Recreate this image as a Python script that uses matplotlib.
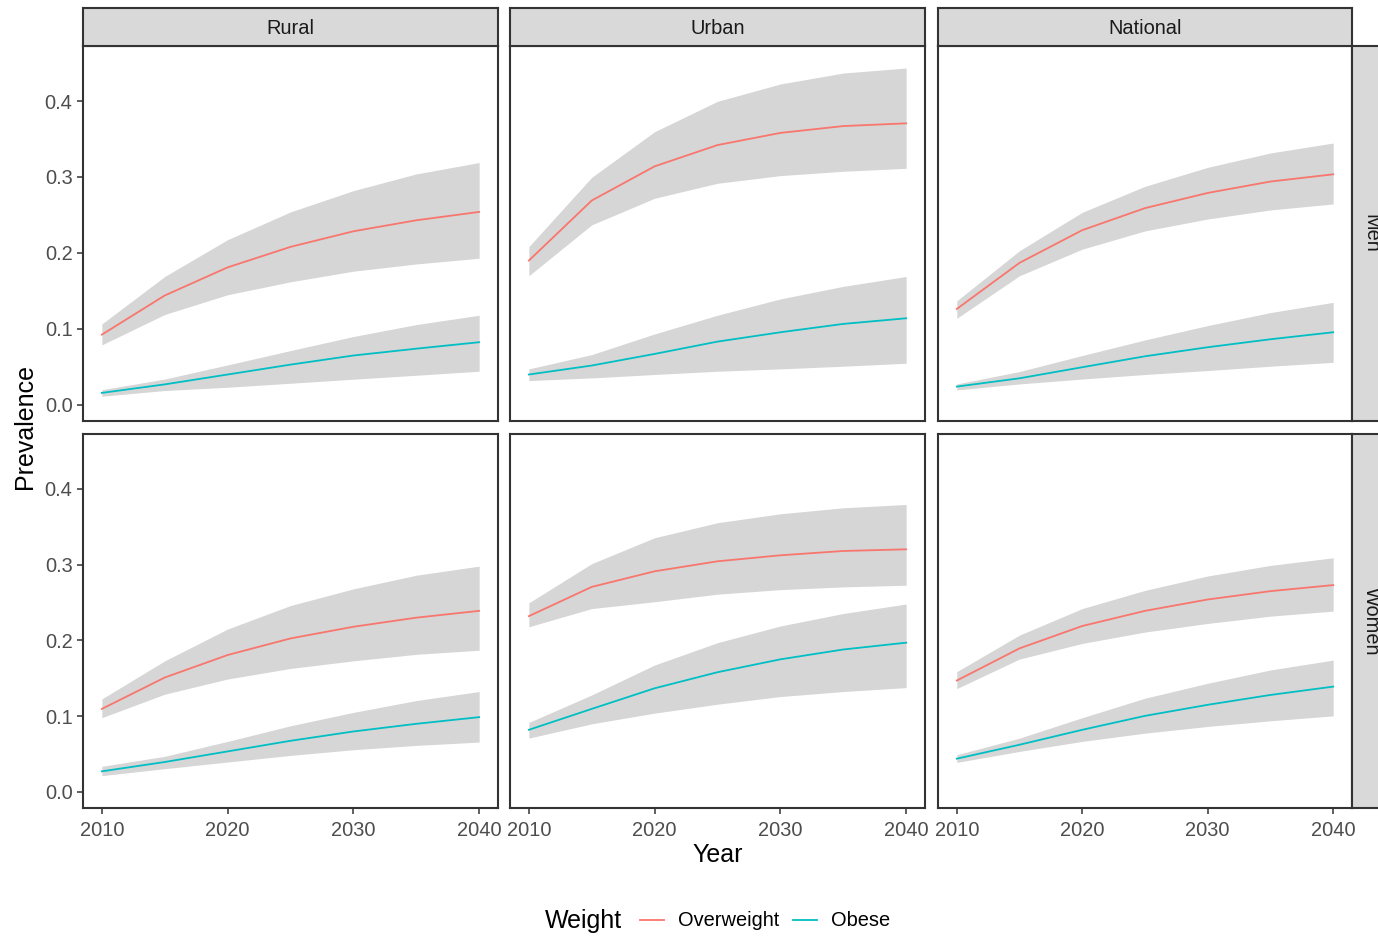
import matplotlib
matplotlib.use("Agg")
import matplotlib.pyplot as plt
from matplotlib.lines import Line2D
from matplotlib.offsetbox import HPacker

plt.rcParams['font.family'] = ['Liberation Sans', 'DejaVu Sans']

years = [2010, 2015, 2020, 2025, 2030, 2035, 2040]
areas = ["Rural", "Urban", "National"]
sexes = ["Men", "Women"]
weights = ["Overweight", "Obese"]
weight_colors = {"Overweight": "#F8766D", "Obese": "#00BFC4"}

# Projected prevalence (mean, lower bound, upper bound)
rural_men_overweight = [0.0925, 0.144, 0.181, 0.208, 0.2285, 0.243, 0.254]
rural_men_overweight_lo = [0.079, 0.119, 0.145, 0.162, 0.176, 0.1855, 0.193]
rural_men_overweight_hi = [0.1066, 0.169, 0.2175, 0.254, 0.282, 0.304, 0.319]
rural_men_obese = [0.0158, 0.0270, 0.040, 0.053, 0.0650, 0.0740, 0.0825]
rural_men_obese_lo = [0.0114, 0.0189, 0.0232, 0.0285, 0.0338, 0.039, 0.0443]
rural_men_obese_hi = [0.020, 0.034, 0.0526, 0.0715, 0.090, 0.1057, 0.118]

urban_men_overweight = [0.190, 0.269, 0.314, 0.342, 0.358, 0.367, 0.3706]
urban_men_overweight_lo = [0.170, 0.237, 0.272, 0.2917, 0.3018, 0.3075, 0.3114]
urban_men_overweight_hi = [0.2083, 0.2996, 0.3596, 0.3996, 0.4224, 0.4368, 0.4434]
urban_men_obese = [0.040, 0.0518, 0.0671, 0.0833, 0.0956, 0.1066, 0.114]
urban_men_obese_lo = [0.032, 0.0355, 0.040, 0.0443, 0.0474, 0.0509, 0.0548]
urban_men_obese_hi = [0.0474, 0.0662, 0.0934, 0.118, 0.1395, 0.156, 0.169]

national_men_overweight = [0.1263, 0.187, 0.230, 0.259, 0.279, 0.294, 0.3035]
national_men_overweight_lo = [0.114, 0.170, 0.205, 0.229, 0.2447, 0.2566, 0.2645]
national_men_overweight_hi = [0.137, 0.203, 0.2535, 0.2877, 0.3127, 0.3316, 0.3447]
national_men_obese = [0.0241, 0.035, 0.0496, 0.064, 0.0759, 0.0864, 0.0956]
national_men_obese_lo = [0.0197, 0.0276, 0.034, 0.040, 0.0452, 0.0509, 0.056]
national_men_obese_hi = [0.0276, 0.0439, 0.065, 0.0855, 0.1044, 0.1215, 0.135]

rural_women_overweight = [0.1096, 0.151, 0.1807, 0.2026, 0.218, 0.230, 0.239]
rural_women_overweight_lo = [0.098, 0.129, 0.149, 0.163, 0.173, 0.1816, 0.187]
rural_women_overweight_hi = [0.1228, 0.173, 0.215, 0.246, 0.268, 0.286, 0.298]
rural_women_obese = [0.0272, 0.0395, 0.0535, 0.0675, 0.0798, 0.0899, 0.0987]
rural_women_obese_lo = [0.0215, 0.0307, 0.0395, 0.0482, 0.0557, 0.0614, 0.0658]
rural_women_obese_hi = [0.0338, 0.047, 0.0667, 0.0873, 0.105, 0.1206, 0.1325]

urban_women_overweight = [0.232, 0.2706, 0.2912, 0.3044, 0.3123, 0.318, 0.3202]
urban_women_overweight_lo = [0.218, 0.242, 0.251, 0.261, 0.267, 0.2706, 0.2728]
urban_women_overweight_hi = [0.2496, 0.3013, 0.3355, 0.3553, 0.3671, 0.375, 0.3794]
urban_women_obese = [0.082, 0.1096, 0.1368, 0.158, 0.175, 0.188, 0.197]
urban_women_obese_lo = [0.071, 0.0899, 0.104, 0.1158, 0.1259, 0.1325, 0.1377]
urban_women_obese_hi = [0.0917, 0.128, 0.1675, 0.197, 0.219, 0.2355, 0.248]

national_women_overweight = [0.147, 0.1895, 0.219, 0.239, 0.254, 0.265, 0.273]
national_women_overweight_lo = [0.1364, 0.1754, 0.196, 0.211, 0.2224, 0.232, 0.2386]
national_women_overweight_hi = [0.1588, 0.207, 0.242, 0.266, 0.285, 0.299, 0.309]
national_women_obese = [0.0439, 0.0623, 0.082, 0.1004, 0.115, 0.128, 0.139]
national_women_obese_lo = [0.039, 0.0535, 0.0667, 0.0776, 0.0864, 0.0939, 0.1004]
national_women_obese_hi = [0.0491, 0.071, 0.098, 0.1237, 0.1434, 0.161, 0.174]

series = {
    ("Men", "Rural"): {
        "Overweight": (rural_men_overweight, rural_men_overweight_lo, rural_men_overweight_hi),
        "Obese": (rural_men_obese, rural_men_obese_lo, rural_men_obese_hi)},
    ("Men", "Urban"): {
        "Overweight": (urban_men_overweight, urban_men_overweight_lo, urban_men_overweight_hi),
        "Obese": (urban_men_obese, urban_men_obese_lo, urban_men_obese_hi)},
    ("Men", "National"): {
        "Overweight": (national_men_overweight, national_men_overweight_lo, national_men_overweight_hi),
        "Obese": (national_men_obese, national_men_obese_lo, national_men_obese_hi)},
    ("Women", "Rural"): {
        "Overweight": (rural_women_overweight, rural_women_overweight_lo, rural_women_overweight_hi),
        "Obese": (rural_women_obese, rural_women_obese_lo, rural_women_obese_hi)},
    ("Women", "Urban"): {
        "Overweight": (urban_women_overweight, urban_women_overweight_lo, urban_women_overweight_hi),
        "Obese": (urban_women_obese, urban_women_obese_lo, urban_women_obese_hi)},
    ("Women", "National"): {
        "Overweight": (national_women_overweight, national_women_overweight_lo, national_women_overweight_hi),
        "Obese": (national_women_obese, national_women_obese_lo, national_women_obese_hi)},
}

x_ticks = [2010, 2020, 2030, 2040]
y_ticks = [0.0, 0.1, 0.2, 0.3, 0.4]

W, H = 1378, 936
fig = plt.figure(figsize=(W / 100, H / 100), dpi=100)

col_x = [(83, 498), (510, 925), (938, 1352)]
row_y = [(46, 421), (434, 808)]
strip_h = 38
border = "#333333"
strip_fill = "#D9D9D9"
tick_col = "#4D4D4D"
small = 14.4
big = 18.0


def fig_rect(x0, x1, y0, y1):
    return [x0 / W, 1 - y1 / H, (x1 - x0) / W, (y1 - y0) / H]


def style_strip(sax):
    sax.set_facecolor(strip_fill)
    sax.set_xticks([])
    sax.set_yticks([])
    for sp in sax.spines.values():
        sp.set_color(border)
        sp.set_linewidth(1.5)


for r, sex in enumerate(sexes):
    for c, area in enumerate(areas):
        x0, x1 = col_x[c]
        y0, y1 = row_y[r]
        ax = fig.add_axes(fig_rect(x0, x1, y0, y1))
        for w in weights:
            mean, lo, hi = series[(sex, area)][w]
            ax.fill_between(years, lo, hi, color="#D6D6D6", lw=0, zorder=1)
        for w in weights:
            mean, lo, hi = series[(sex, area)][w]
            ax.plot(years, mean, color=weight_colors[w], lw=1.3, zorder=3)
        ax.set_xlim(2008.5, 2041.5)
        ax.set_ylim(-0.0212, 0.4724)
        ax.set_xticks(x_ticks)
        ax.set_yticks(y_ticks)
        ax.tick_params(direction="out", length=4.5, width=1.1, color=border,
                       labelcolor=tick_col, labelsize=small)
        ax.tick_params(axis="x", pad=4.5)
        ax.tick_params(axis="y", pad=3)
        if c == 0:
            ax.set_yticklabels([f"{v:.1f}" for v in y_ticks])
        else:
            ax.tick_params(axis="y", length=0, labelleft=False)
        if r == 1:
            ax.set_xticklabels([str(v) for v in x_ticks])
        else:
            ax.tick_params(axis="x", length=0, labelbottom=False)
        for sp in ax.spines.values():
            sp.set_color(border)
            sp.set_linewidth(1.5)
        ax.set_facecolor("white")

        # column strip above the top row
        if r == 0:
            sax = fig.add_axes(fig_rect(x0, x1, y0 - strip_h, y0))
            style_strip(sax)
            sax.text(0.5, 0.45, area, ha="center", va="center",
                     fontsize=small, color="#1A1A1A", transform=sax.transAxes)
        # row strip right of the last column
        if c == 2:
            sax = fig.add_axes(fig_rect(x1, x1 + strip_h, y0, y1))
            style_strip(sax)
            sax.text(0.5, 0.5, sex, ha="center", va="center", rotation=-90,
                     fontsize=small, color="#1A1A1A", transform=sax.transAxes)

# axis titles
fig.text(717.5 / W, 1 - 855 / H, "Year", ha="center", va="center",
         fontsize=big, color="black")
fig.text(25 / W, 1 - 427 / H, "Prevalence", ha="center", va="center",
         rotation=90, fontsize=big, color="black")

# legend: title to the left of the entries
handles = [Line2D([0], [0], color=weight_colors[w], lw=1.3) for w in weights]
leg = fig.legend(handles, weights, title="Weight", loc="center",
                 bbox_to_anchor=(717.5 / W, 1 - 921 / H), ncol=2, frameon=False,
                 fontsize=small, title_fontsize=big, handlelength=1.2,
                 handletextpad=0.7, columnspacing=0.7)
box = leg._legend_box
box.__class__ = HPacker
box.sep = 13
box.align = "center"

fig.savefig("out.png", dpi=100, facecolor="white")
